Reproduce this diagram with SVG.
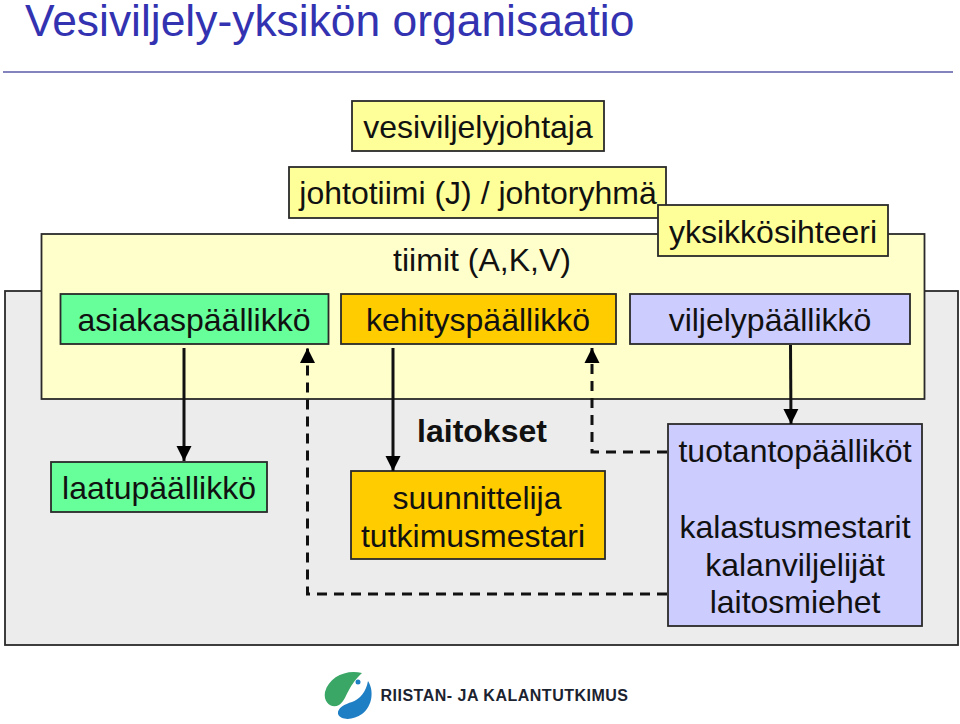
<svg xmlns="http://www.w3.org/2000/svg" width="960" height="724" viewBox="0 0 960 724">
<defs>
<style>
text{font-family:"Liberation Sans",Arial,sans-serif;font-size:32px;fill:#111;text-anchor:middle}
.b{stroke:#2a2a2a;stroke-width:1.8}
.s{stroke:#111;stroke-width:3;fill:none}
.d{stroke:#111;stroke-width:3;fill:none;stroke-dasharray:10 7}
</style>
<marker id="a" markerUnits="userSpaceOnUse" markerWidth="16" markerHeight="16" refX="15" refY="8" orient="auto"><path d="M0,0.5L15,8L0,15.5Z" fill="#000"/></marker>
</defs>
<rect width="960" height="724" fill="#fff"/>
<text x="25" y="36" style="font-size:44.400px;fill:#3333b2;text-anchor:start">Vesiviljely-yksikön organisaatio</text>
<path d="M3 72H953" stroke="#5a5aa8" stroke-width="1.3"/>
<g id="laitokset-area"><rect class="b" x="5" y="291" width="953" height="354" fill="#ececec"/><text x="482" y="442" style="font-weight:bold">laitokset</text></g>
<g id="tiimit-area"><rect class="b" x="41.500" y="234" width="883" height="165" fill="#ffffcc"/><text x="482" y="271">tiimit (A,K,V)</text></g>
<g id="vesiviljelyjohtaja"><rect class="b" x="352" y="101" width="252" height="50" fill="#ffff99"/><text x="478" y="138">vesiviljelyjohtaja</text></g>
<g id="johtotiimi"><rect class="b" x="289" y="167" width="377" height="51" fill="#ffff99"/><text x="478" y="204">johtotiimi (J) / johtoryhmä</text></g>
<g id="yksikkosihteeri"><rect class="b" x="658" y="205" width="230" height="51" fill="#ffff99"/><text x="773" y="243">yksikkösihteeri</text></g>
<g id="asiakaspaallikko"><rect class="b" x="60.500" y="294" width="268" height="50" fill="#66ff99"/><text x="194" y="331">asiakaspäällikkö</text></g>
<g id="kehityspaallikko"><rect class="b" x="341" y="294" width="275" height="50" fill="#ffcc00"/><text x="478" y="331">kehityspäällikkö</text></g>
<g id="viljelypaallikko"><rect class="b" x="630" y="294" width="280" height="50" fill="#ccccff"/><text x="770" y="331">viljelypäällikkö</text></g>
<g id="laatupaallikko"><rect class="b" x="51" y="462" width="216" height="50" fill="#66ff99"/><text x="159" y="499">laatupäällikkö</text></g>
<g id="suunnittelija"><rect class="b" x="351" y="471" width="254" height="88" fill="#ffcc00"/><text x="477" y="509">suunnittelija</text><text x="473" y="547">tutkimusmestari</text></g>
<g id="tuotantopaalliko"><rect class="b" x="668" y="424" width="254" height="202" fill="#ccccff"/><text x="795" y="462">tuotantopäälliköt</text><text x="795" y="538">kalastusmestarit</text><text x="795" y="576">kalanviljelijät</text><text x="795" y="613">laitosmiehet</text></g>
<g id="connectors">
<path class="s" d="M184 348V461" marker-end="url(#a)"/>
<path class="s" d="M393 348V471" marker-end="url(#a)"/>
<path class="s" d="M790.500 345L791 424" marker-end="url(#a)"/>
<path class="d" d="M667 594H307.500V348" marker-end="url(#a)"/>
<path class="d" d="M667 452H592V348" marker-end="url(#a)"/>
</g>
<g id="logo">
<path d="M362 673C346 669 329 677 325 692C323 703 332 709 339 705C347 700 346 688 362 673Z" fill="#3aa767"/>
<path d="M368 681C374 690 373 706 362 714C354 720 341 721 338 714C337 708 345 704 352 702C360 699 366 692 368 681Z" fill="#1f7fc4"/>
<circle cx="358" cy="682" r="2.500" fill="#1f7fc4"/>
<text x="504.500" y="701" style="font-size:16px;font-weight:bold;fill:#1c2330;letter-spacing:0.500px">RIISTAN- JA KALANTUTKIMUS</text>
</g>
</svg>
